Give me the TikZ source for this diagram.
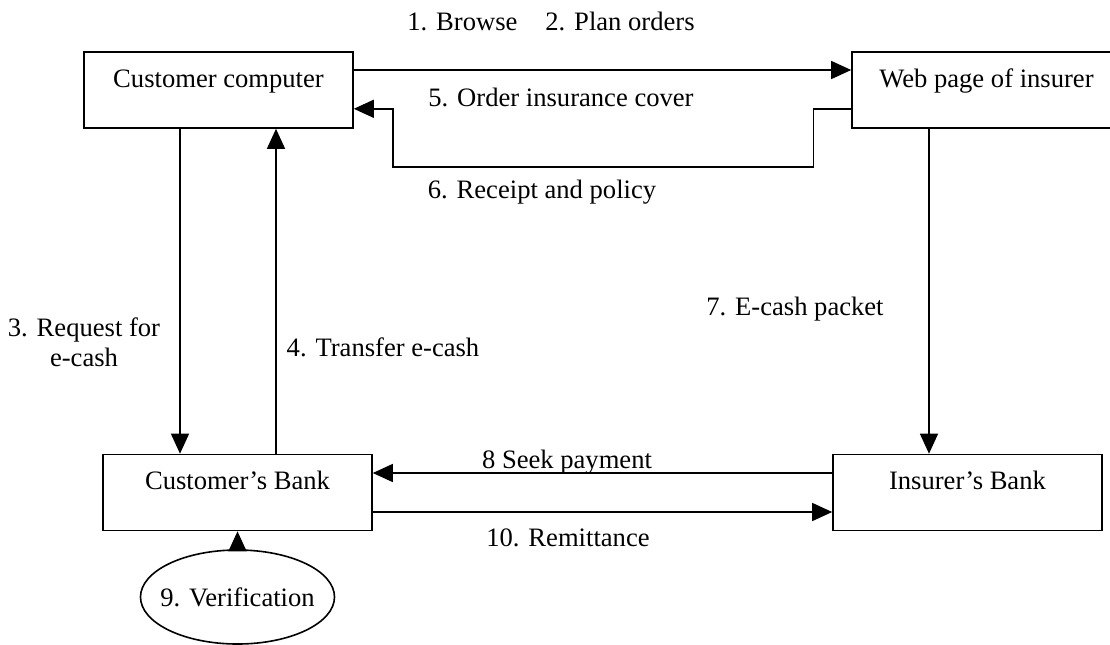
\documentclass[tikz,border=0pt]{standalone}
\usepackage{fontspec}
\setmainfont{Liberation Serif}
\usetikzlibrary{arrows.meta,shapes.geometric}
\tikzset{
  blockbox/.style={draw, line width=0.8pt, inner sep=0pt, minimum width=134.5pt,
    text height=17.5pt, text depth=20.5pt},
  flow/.style={line width=0.7pt, -{Triangle[length=10pt,width=9pt]}},
  line/.style={line width=0.7pt},
}
\begin{document}
\begin{tikzpicture}[x=0.5pt,y=-0.5pt,font=\fontsize{13.3}{15}\selectfont]
\useasboundingbox (0,0) rectangle (1110,644);
\node[blockbox] (cc) at (218.5,90) {Customer computer};
\node[blockbox] (web) at (986.5,90) {Web page of insurer};
\node[blockbox] (cb) at (237.5,492.5) {Customer's Bank};
\node[blockbox] (ib) at (967.5,492.5) {Insurer's Bank};
\node[draw, ellipse, line width=0.8pt, minimum width=97pt, minimum height=47pt,
  inner ysep=0pt, inner xsep=-4.5pt] (ver) at (237.5,597) {9. Verification};

\coordinate (x3) at (180,0);
\coordinate (x4) at (276,0);
\coordinate (x7) at (929,0);
\coordinate (y1) at (0,70);
\coordinate (y8) at (0,473);
\coordinate (y10) at (0,512);

\draw[flow] (cc.east |- y1) -- (web.west |- y1);
\draw[flow] ([yshift=10pt]web.south west) -- ++(-38,0) -- ++(0,58) -| ([xshift=19.5pt,yshift=10pt]cc.south east) -- ([yshift=10pt]cc.south east);
\draw[flow] (cc.south -| x3) -- (cb.north -| x3);
\draw[flow] (cb.north -| x4) -- (cc.south -| x4);
\draw[flow] (web.south -| x7) -- (ib.north -| x7);
\draw[flow] (ib.west |- y8) -- (cb.east |- y8);
\draw[flow] (cb.east |- y10) -- (ib.west |- y10);
\draw[flow] (ver) -- (cb);

\node (browse) at (551,21) {1. Browse\hspace{14pt}2. Plan orders};
\node (order) at (561,97) {5. Order insurance cover};
\node (receipt) at (542,192) {6. Receipt and policy};
\node[align=center] (request) at (84,342) {3. Request for\\e-cash};
\node (transfer) at (383,347) {4. Transfer e-cash};
\node (packet) at (795,309) {7. E-cash packet};
\node (seek) at (567,462) {8 Seek payment};
\node (remit) at (568,538) {10. Remittance};
\end{tikzpicture}
\end{document}
